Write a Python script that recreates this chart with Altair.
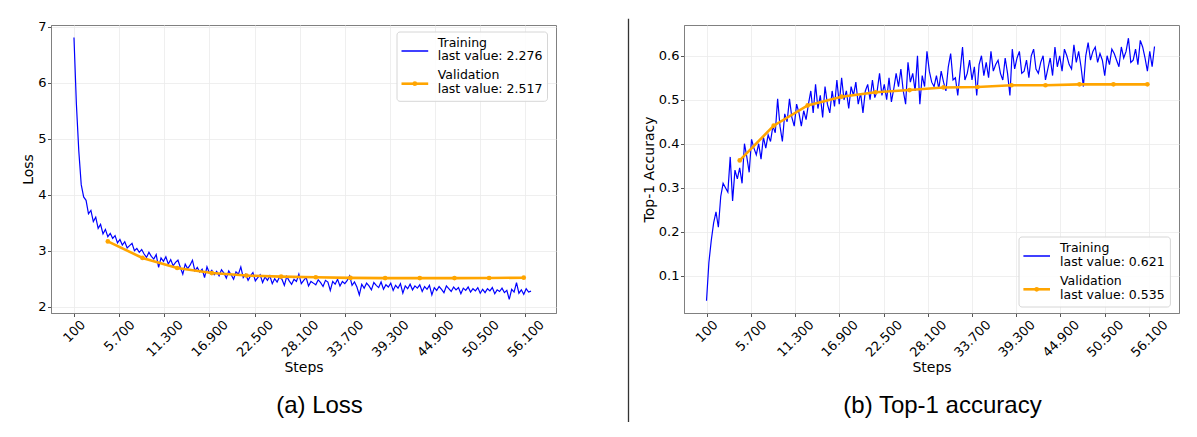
import altair as alt
import pandas as pd

# training steps (one reading every 300 steps) and validation steps
steps = list(range(100, 56801, 300))
val_steps = [4300, 8600, 12900, 17200, 21500, 25800, 30100, 34400, 38700, 43000, 47300, 51600, 55900]

loss_train = [
    6.81, 5.62, 4.78, 4.18, 3.96, 3.90, 3.66, 3.72, 3.52, 3.60,
    3.40, 3.47, 3.30, 3.38, 3.25, 3.31, 3.22, 3.27, 3.14, 3.20,
    3.10, 3.16, 3.05, 3.09, 3.13, 3.00, 3.04, 2.97, 3.02, 2.94,
    2.88, 2.97, 2.90, 2.85, 2.93, 2.70, 2.87, 2.81, 2.89, 2.76,
    2.84, 2.73, 2.79, 2.83, 2.70, 2.58, 2.76, 2.68, 2.74, 2.83,
    2.64, 2.70, 2.62, 2.67, 2.52, 2.71, 2.60, 2.65, 2.57, 2.63,
    2.55, 2.66, 2.60, 2.51, 2.64, 2.57, 2.49, 2.62, 2.58, 2.71,
    2.52, 2.58, 2.47, 2.55, 2.61, 2.46, 2.52, 2.57, 2.43, 2.53,
    2.47, 2.55, 2.41, 2.50, 2.44, 2.53, 2.49, 2.38, 2.54, 2.46,
    2.40, 2.49, 2.45, 2.58, 2.41, 2.47, 2.52, 2.37, 2.45, 2.42,
    2.39, 2.48, 2.43, 2.36, 2.47, 2.44, 2.29, 2.45, 2.40, 2.49,
    2.37, 2.45, 2.41, 2.47, 2.55, 2.38, 2.44, 2.35, 2.21, 2.40,
    2.33, 2.42, 2.37, 2.30, 2.43, 2.38, 2.34, 2.44, 2.31, 2.39,
    2.35, 2.42, 2.29, 2.38, 2.33, 2.41, 2.24, 2.37, 2.32, 2.40,
    2.30, 2.37, 2.33, 2.39, 2.27, 2.36, 2.31, 2.38, 2.21, 2.34,
    2.29, 2.36, 2.31, 2.25, 2.37, 2.32, 2.27, 2.35, 2.30, 2.34,
    2.23, 2.33, 2.29, 2.35, 2.26, 2.32, 2.28, 2.34, 2.24, 2.31,
    2.25, 2.32, 2.28, 2.34, 2.23, 2.30, 2.27, 2.33, 2.25, 2.29,
    2.13, 2.31, 2.26, 2.43, 2.24, 2.30, 2.22, 2.32, 2.26, 2.276,
]
loss_val = [3.165, 2.87, 2.69, 2.60, 2.555, 2.537, 2.525, 2.513, 2.51, 2.51, 2.51, 2.512, 2.517]

acc_train = [
    0.043, 0.13, 0.18, 0.22, 0.245, 0.21, 0.28, 0.31, 0.30, 0.29,
    0.37, 0.27, 0.34, 0.32, 0.345, 0.31, 0.40, 0.37, 0.335, 0.41,
    0.39, 0.375, 0.40, 0.365, 0.415, 0.39, 0.42, 0.405, 0.44, 0.425,
    0.502, 0.44, 0.405, 0.468, 0.45, 0.502, 0.46, 0.44, 0.49, 0.47,
    0.44, 0.475, 0.455, 0.49, 0.52, 0.47, 0.535, 0.48, 0.51, 0.46,
    0.53, 0.49, 0.47, 0.52, 0.485, 0.545, 0.49, 0.55, 0.50, 0.52,
    0.48, 0.53, 0.51, 0.54, 0.49, 0.515, 0.47, 0.52, 0.535, 0.50,
    0.545, 0.505, 0.52, 0.56, 0.51, 0.535, 0.50, 0.55, 0.495, 0.525,
    0.56, 0.53, 0.57, 0.52, 0.49, 0.585, 0.54, 0.56, 0.52, 0.60,
    0.49, 0.555, 0.53, 0.61, 0.565, 0.54, 0.53, 0.555, 0.525, 0.565,
    0.54, 0.52, 0.575, 0.605, 0.545, 0.55, 0.51, 0.565, 0.62, 0.545,
    0.56, 0.59, 0.545, 0.575, 0.51, 0.58, 0.60, 0.555, 0.585, 0.55,
    0.61, 0.565, 0.58, 0.59, 0.56, 0.545, 0.595, 0.56, 0.51, 0.615,
    0.57, 0.595, 0.61, 0.56, 0.565, 0.59, 0.55, 0.60, 0.615, 0.57,
    0.56, 0.585, 0.60, 0.545, 0.57, 0.595, 0.555, 0.62, 0.575, 0.60,
    0.565, 0.615, 0.60, 0.58, 0.57, 0.625, 0.585, 0.61, 0.575, 0.53,
    0.60, 0.63, 0.59, 0.61, 0.62, 0.585, 0.605, 0.59, 0.555, 0.60,
    0.58, 0.615, 0.605, 0.59, 0.575, 0.62, 0.595, 0.61, 0.64, 0.585,
    0.59, 0.615, 0.58, 0.635, 0.62, 0.595, 0.565, 0.61, 0.575, 0.621,
]
acc_val = [0.362, 0.441, 0.487, 0.507, 0.517, 0.522, 0.528, 0.529, 0.533, 0.533, 0.535, 0.535, 0.535]

x_ticks = [100, 5700, 11300, 16900, 22500, 28100, 33700, 39300, 44900, 50500, 56100]
loss_ticks = [2, 3, 4, 5, 6, 7]
acc_ticks = [0.1, 0.2, 0.3, 0.4, 0.5, 0.6]

loss_legend = ['Training', 'last value: 2.276', 'Validation', 'last value: 2.517']
acc_legend = ['Training', 'last value: 0.621', 'Validation', 'last value: 0.535']

BLUE = '#0000ff'
ORANGE = '#ffa500'
FRAME = '#808080'
H = 288

one = pd.DataFrame({'k': [0]})


def panel(train, val, y_domain, y_ticks, y_fmt, y_title, labels, lg, caption, cap_dx, width):
    train_df = pd.DataFrame({'step': steps, 'value': train})
    val_df = pd.DataFrame({'step': val_steps, 'value': val})

    x = alt.X('step:Q', title='Steps',
              scale=alt.Scale(domain=[-2750, 59900], nice=False, zero=False),
              axis=alt.Axis(values=x_ticks, labelAngle=-45, labelAlign='right', labelBaseline='top',
                            labelExpr="replace(format(datum.value, ','), ',', '.')",
                            labelOffset={'condition': [{'test': 'datum.value == 100', 'value': 4.5},
                                                       {'test': 'datum.value == 5700', 'value': 9}],
                                         'value': 12},
                            titlePadding=1))
    y = alt.Y('value:Q', title=y_title,
              scale=alt.Scale(domain=y_domain, nice=False, zero=False),
              axis=alt.Axis(values=y_ticks, format=y_fmt, titlePadding=2))

    train_line = alt.Chart(train_df).mark_line(color=BLUE, strokeWidth=1.2).encode(x=x, y=y)
    val_line = alt.Chart(val_df).mark_line(
        color=ORANGE, strokeWidth=2.6,
        point=alt.OverlayMarkDef(color=ORANGE, filled=True, size=22, opacity=1)).encode(x=x, y=y)

    # legend box drawn inside the plot, like matplotlib's
    bx0, bx1, by0, by1, lx0, lx1, ty, vy, tx, t1, t2, t3, t4 = lg
    box = alt.Chart(one).mark_rect(fill='white', fillOpacity=0.85, stroke='#d6d6d6',
                                   strokeWidth=1, cornerRadius=3).encode(
        x=alt.value(bx0), x2=alt.value(bx1), y=alt.value(by0), y2=alt.value(by1))
    tr_key = alt.Chart(one).mark_rule(color=BLUE, strokeWidth=1.5).encode(
        x=alt.value(lx0), x2=alt.value(lx1), y=alt.value(ty))
    va_key = alt.Chart(one).mark_rule(color=ORANGE, strokeWidth=2.6).encode(
        x=alt.value(lx0), x2=alt.value(lx1), y=alt.value(vy))
    va_dot = alt.Chart(one).mark_point(color=ORANGE, filled=True, size=22, opacity=1).encode(
        x=alt.value((lx0 + lx1) / 2), y=alt.value(vy))
    texts = [alt.Chart(one).mark_text(align='left', baseline='middle', font='DejaVu Sans',
                                      fontSize=12.5, color='black').encode(
        x=alt.value(tx), y=alt.value(yy), text=alt.value(lab))
        for lab, yy in zip(labels, [t1, t2, t3, t4])]

    return alt.layer(train_line, val_line, box, tr_key, va_key, va_dot, *texts).properties(
        width=width, height=H,
        title=alt.TitleParams(caption, orient='bottom', anchor='middle', frame='group',
                              font='Liberation Sans', fontSize=24, fontWeight='normal',
                              color='black', offset=20, dx=cap_dx))


left = panel(loss_train, loss_val, [1.886, 7.034], loss_ticks, 'd', 'Loss', loss_legend,
             (346, 496.5, 7, 76.3, 350.5, 377.2, 26, 58.7, 386.7, 17.7, 31.3, 50.3, 64.3),
             '(a) Loss', 16, 505)
right = panel(acc_train, acc_val, [0.015, 0.670], acc_ticks, '.1f', 'Top-1 Accuracy', acc_legend,
              (335, 486.4, 212, 282, 339.4, 366, 231, 264.3, 376, 223, 237, 256, 269.7),
              '(b) Top-1 accuracy', 11, 495)

divider = alt.Chart(one).mark_rule(color='#333333', strokeWidth=1.3).encode(
    x=alt.value(70.5), y=alt.value(-6.3), y2=alt.value(397)
).properties(width=82, height=H, view=alt.ViewBackground(stroke='transparent'))

chart = alt.hconcat(left, divider, right, spacing=0).properties(
    padding={'left': 13, 'top': 9, 'right': 0, 'bottom': 0},
    background='white'
).configure_view(stroke=FRAME, strokeWidth=1).configure_axis(
    labelFont='DejaVu Sans', labelFontSize=13, labelColor='black',
    titleFont='DejaVu Sans', titleFontSize=14, titleFontWeight='normal', titleColor='black',
    gridColor='#ebebeb', gridWidth=0.8, domainColor=FRAME, tickColor='#555555',
    tickSize=3.5, labelPadding=1.5
)

chart.save('out.html', embed_options={'renderer': 'svg', 'actions': False})
